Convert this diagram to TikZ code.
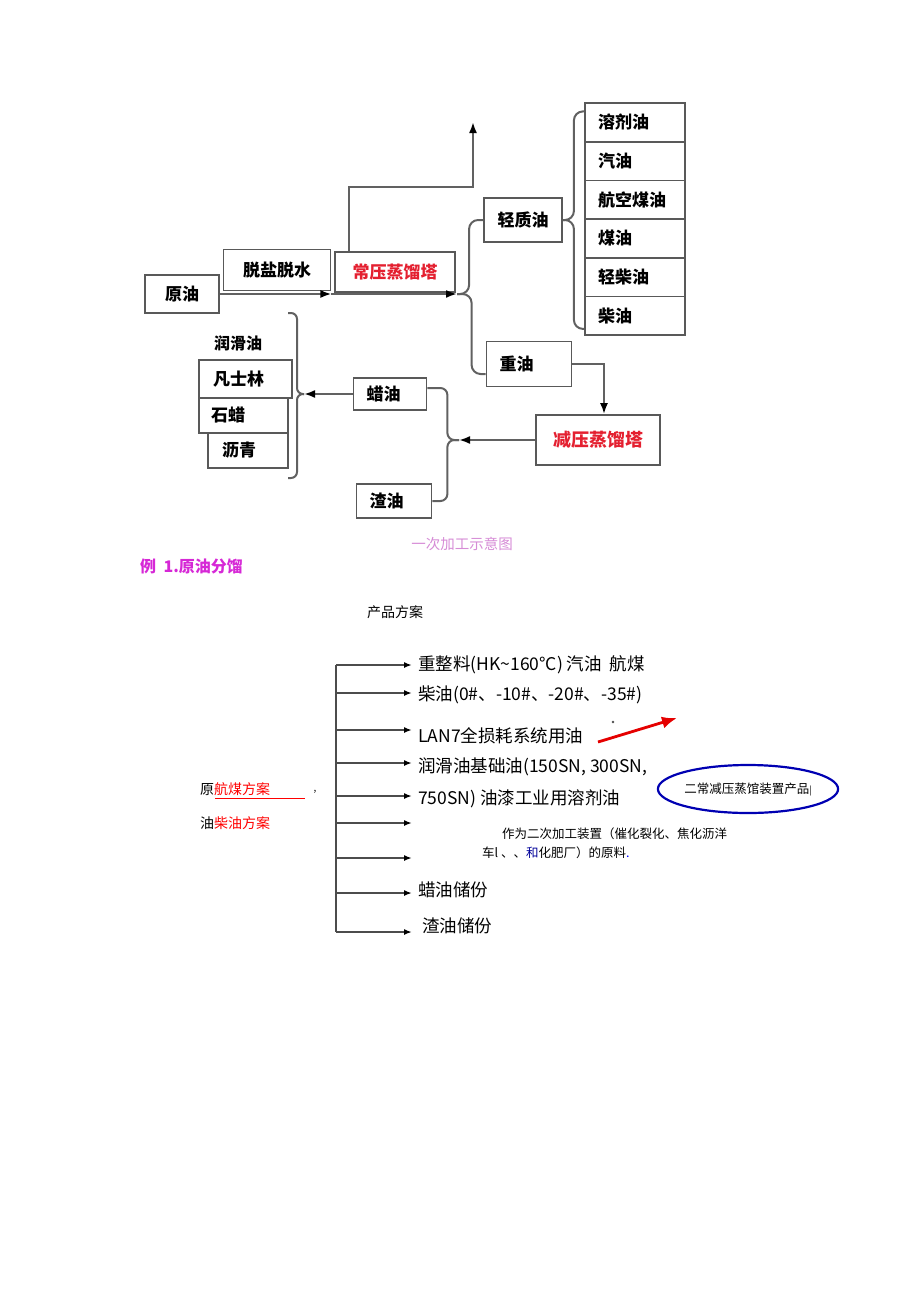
\documentclass[tikz,border=0pt]{standalone}
\usepackage{fontspec}
\setmainfont{Noto Sans CJK SC}
\usetikzlibrary{shapes.geometric,arrows.meta}
\newcommand\fsz[1]{\fontsize{#1}{#1}\selectfont}
\definecolor{towerred}{RGB}{228,32,48}
\definecolor{titlemag}{RGB}{214,40,214}
\definecolor{captpink}{RGB}{214,140,214}
\tikzset{
  box/.style={draw=black!65, line width=1.8pt, fill=white, inner sep=0pt, font=\bfseries\fsz{17}},
  lbox/.style={box, align=left, inner xsep=13pt},
  col/.style={box, minimum height=38.7, text width=74, align=left, inner xsep=13pt},
  flow/.style={draw=black!62, line width=2pt},
  plain/.style={inner sep=0pt, anchor=west, font=\fsz{17.5}},
}
\begin{document}
\begin{tikzpicture}[x=1pt,y=-1pt,>={Latex[length=11pt,width=8pt,black]}]
  \useasboundingbox (0,0) rectangle (920,1301);

  % crude oil to the atmospheric tower
  \node[box, minimum width=74, minimum height=38] (yuan) at (182,294) {原油};
  \node[box, minimum width=107, minimum height=41] (tuoshui) at (277,270) {脱盐脱水};
  \node[box, minimum width=120, minimum height=40, text=towerred] (changya) at (395,272) {常压蒸馏塔};
  \coordinate (j1) at (457,294);
  \draw[flow,->] (yuan.east) -- (yuan.east -| tuoshui.south east);
  \draw[flow,->] (yuan.east -| tuoshui.south east) -- (j1);

  % overhead
  \coordinate (topbend) at (473,187);
  \coordinate (toptip) at (473,122);
  \draw[flow,->] ([xshift=15pt]changya.north west) |- (topbend) -- (toptip);

  % light and heavy oil
  \node[box, minimum width=78, minimum height=44] (qing) at (523,220) {轻质油};
  \node[lbox, text width=59, minimum height=45] (zhong) at (529,364) {重油};
  \draw[flow, rounded corners=9pt] (j1) -| ([xshift=-14pt]qing.west) -- (qing.west);
  \draw[flow, rounded corners=9pt] (j1) -| ([xshift=-14pt,yshift=-10pt]zhong.west) -- ([yshift=-10pt]zhong.west);

  % products of the light oil
  \foreach \name/\txt [count=\i] in {rongji/溶剂油, qiyou/汽油, hangkong/航空煤油, meiyou/煤油, qingchai/轻柴油, chaiyou/柴油}
    \node[col] (\name) at (635,83.7+38.7*\i) {\txt};
  \draw[flow, rounded corners=9pt] ([yshift=11pt]rongji.west) -| ([xshift=11pt]qing.east) -- (qing.east);
  \draw[flow, rounded corners=9pt] ([yshift=-13pt]chaiyou.west) -| ([xshift=11pt]qing.east) -- (qing.east);

  % vacuum tower
  \node[box, minimum width=124, minimum height=50, text=towerred, font=\bfseries\fsz{18}] (jianya) at (598,440) {减压蒸馏塔};
  \draw[flow,->] (zhong.east) -| ([xshift=6pt]jianya.north);
  \coordinate (j2) at (459,440);
  \draw[flow,->] (jianya.west) -- (j2);
  \node[lbox, text width=47, minimum height=32] (layou) at (390,394) {蜡油};
  \node[lbox, text width=49, minimum height=34] (zhayou) at (394,501) {渣油};
  \draw[flow, rounded corners=7pt] (j2) -| ([xshift=20pt,yshift=6pt]layou.east) -- ([yshift=6pt]layou.east);
  \draw[flow, rounded corners=7pt] (j2) -| ([xshift=15pt]zhayou.east) -- (zhayou.east);

  % wax oil products
  \coordinate (j3) at (304,394);
  \coordinate (bt) at (288,313);
  \coordinate (bb) at (288,478);
  \draw[flow,->] (layou.west) -- (j3);
  \draw[flow, rounded corners=6pt] (bt) -| ([xshift=-7pt]j3) -- (j3);
  \draw[flow, rounded corners=6pt] (bb) -| ([xshift=-7pt]j3) -- (j3);
  \node[font=\bfseries\fsz{16}, inner sep=0pt] (runhua) at (238,343) {润滑油};
  \node[lbox, text width=65, inner xsep=14pt, minimum height=38] (fanshilin) at (245.5,379) {凡士林};
  \node[lbox, text width=65, inner xsep=12pt, minimum height=35] (shila) at (243.5,415.5) {石蜡};
  \node[lbox, text width=52, inner xsep=14pt, minimum height=35] (liqing) at (248,450.5) {沥青};

  % captions
  \node[text=captpink, font=\fsz{14.5}, inner sep=0pt] (caption) at (462,544) {一次加工示意图};
  \node[text=titlemag, font=\bfseries\fsz{16}, inner sep=0pt, anchor=west] (title) at (140,566) {例\ \ 1.原油分馏};

  % product scheme
  \node[font=\fsz{14}, inner sep=0pt] (fangan) at (395,612) {产品方案};
  \coordinate (busx) at (336,0);
  \foreach \y [count=\i] in {665,693,730,763,796,823,858,893,932} {
    \coordinate (e\i) at (412,\y);
    \draw[flow, draw=black!70, line width=1.6pt, -{Latex[length=8pt,width=6pt,black]}] (e\i -| busx) -- (e\i);
  }
  \draw[flow, draw=black!70, line width=1.6pt] (e1 -| busx) -- (e9 -| busx);

  \node[plain] (t1) at (418,665) {重整料(HK\textasciitilde160°C) 汽油\ \ 航煤};
  \node[plain] (t2) at (418,695) {柴油(0\#、-10\#、-20\#、-35\#)};
  \node[plain] (t3) at (418,736) {LAN7全损耗系统用油};
  \node[plain] (t4) at (418,767) {润滑油基础油(150SN, 300SN,};
  \node[plain] (t5) at (418,799) {750SN) 油漆工业用溶剂油};
  \node[plain, font=\fsz{12.5}] (t6) at (502,834) {作为二次加工装置（催化裂化、焦化沥洋};
  \node[plain, font=\fsz{12.5}] (t7) at (482,853) {车l 、、{\color{blue!60!black}和}化肥厂）的原料{\color{blue}.}};
  \node[plain] (t8) at (418,890) {蜡油储份};
  \node[plain] (t9) at (422,926) {渣油储份};

  % red arrow and the ellipse
  \coordinate (rs) at (598,742);
  \coordinate (re) at (677,718);
  \draw[red!90!black, line width=2.8pt, -{Latex[length=15pt,width=12pt]}] (rs) -- (re);
  \fill[black!70] (613,722) circle (1.3);
  \node[ellipse, draw=blue!70!black, line width=2.2pt, minimum width=156, minimum height=48, inner sep=0pt, font=\fsz{12.5}] (erchang) at (748,789) {二常减压蒸馆装置产品{\fsz{9}|}};

  % the two schemes
  \node[plain, font=\fsz{14}] (plan1) at (200,789) {原{\color{red}航煤方案}};
  \draw[red, line width=0.9pt] ([xshift=15pt,yshift=-3pt]plan1.south west) -- ++(90,0);
  \node[font=\fsz{10}, inner sep=0pt] (comma) at (315,792) {,};
  \node[plain, font=\fsz{14}] (plan2) at (200,823) {油{\color{red}柴油方案}};
\end{tikzpicture}
\end{document}
